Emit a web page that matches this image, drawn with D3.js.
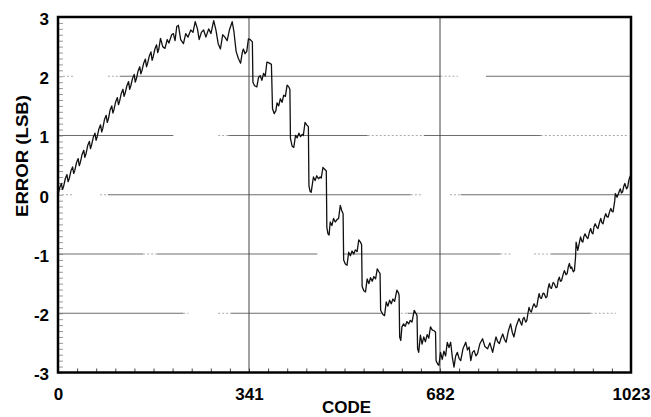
<!DOCTYPE html>
<html lang="en">
<head>
<meta charset="UTF-8">
<title>Error (LSB) vs Code</title>
<script src="https://d3js.org/d3.v7.min.js"></script>
<style>
    body {
        margin: 0;
        background: #fff;
    }
    svg {
        display: block;
        font-family: "Liberation Sans", Arial, sans-serif;
    }
    .tick text, .title {
        font-weight: bold;
        fill: #000;
    }
</style>
</head>
<body>
<div id="chart"></div>
<script>
    // tick labels
    const xTicks = [0, 341, 682, 1023];
    const yTicks = [-3, -2, -1, 0, 1, 2, 3];
    const vLines = [341, 682];

    // horizontal grid pieces as they survive in the scan: [level, fromCode, toCode]
    const gridSolid = [
        [2, 110, 683], [2, 764, 1023],
        [1, 0, 206], [1, 304, 553], [1, 653, 862],
        [0, 89, 630], [0, 719, 1023],
        [-1, 0, 152], [-1, 177, 463], [-1, 508, 790], [-1, 880, 1023],
        [-2, 0, 224], [-2, 308, 581], [-2, 624, 951]
    ];
    const gridDotted = [
        [2, 9, 30], [2, 89, 108], [2, 683, 714],
        [1, 286, 304], [1, 553, 653], [1, 862, 1018],
        [0, 0, 25], [0, 75, 89], [0, 630, 648], [0, 700, 719],
        [-1, 152, 177], [-1, 790, 808], [-1, 850, 880],
        [-2, 224, 233], [-2, 286, 308], [-2, 612, 624], [-2, 951, 996]
    ];

    // error curve: [code, error in LSB]
    const errorCurve = [
        [0, 0.00], [3, 0.12], [6, 0.19], [8, 0.09], [10, 0.14], [13, 0.27], [16, 0.34], [18, 0.22],
        [20, 0.27], [23, 0.40], [26, 0.47], [28, 0.36], [30, 0.41], [33, 0.54], [36, 0.61], [38, 0.49],
        [40, 0.55], [43, 0.68], [46, 0.75], [48, 0.63], [50, 0.69], [53, 0.83], [56, 0.90], [58, 0.78],
        [60, 0.84], [63, 0.97], [66, 1.04], [68, 0.92], [70, 0.98], [73, 1.11], [76, 1.18], [78, 1.06],
        [80, 1.12], [83, 1.27], [86, 1.34], [88, 1.22], [90, 1.28], [93, 1.43], [96, 1.50], [98, 1.38],
        [100, 1.44], [103, 1.57], [106, 1.64], [108, 1.52], [110, 1.58], [113, 1.71], [116, 1.78], [118, 1.66],
        [120, 1.72], [123, 1.84], [126, 1.91], [128, 1.78], [130, 1.84], [133, 1.96], [136, 2.03], [138, 1.90],
        [140, 1.96], [143, 2.09], [146, 2.16], [148, 2.04], [150, 2.10], [153, 2.22], [156, 2.29], [158, 2.16],
        [160, 2.22], [163, 2.34], [166, 2.41], [168, 2.27], [170, 2.33], [173, 2.46], [176, 2.53], [178, 2.40],
        [180, 2.46], [183, 2.64], [187, 2.50], [191, 2.47], [195, 2.62], [198, 2.56], [203, 2.70], [206, 2.72],
        [209, 2.60], [212, 2.84], [215, 2.86], [219, 2.62], [224, 2.55], [228, 2.72], [232, 2.66], [237, 2.78],
        [241, 2.74], [245, 2.92], [249, 2.80], [252, 2.62], [256, 2.74], [260, 2.78], [264, 2.66], [269, 2.80],
        [273, 2.72], [278, 2.94], [282, 2.78], [286, 2.55], [290, 2.46], [294, 2.70], [298, 2.66], [302, 2.60],
        [306, 2.78], [311, 2.92], [314, 2.76], [318, 2.42], [322, 2.30], [326, 2.22], [329, 2.40], [331, 2.46],
        [334, 2.38], [337, 2.42], [340, 2.63], [343, 2.62], [347, 2.58],
        [348, 1.90], [351, 1.84], [355, 1.82], [358, 1.98], [361, 2.01], [364, 1.93], [367, 2.05], [370, 2.00],
        [373, 2.24], [376, 2.23], [381, 2.20],
        [383, 1.45], [386, 1.37], [389, 1.42], [391, 1.55], [394, 1.50], [397, 1.62], [400, 1.56], [403, 1.68],
        [406, 1.66], [409, 1.85], [412, 1.82], [414, 1.78],
        [415, 0.95], [418, 0.82], [421, 0.80], [424, 1.00], [427, 0.96], [430, 1.04], [433, 0.98], [436, 1.02],
        [438, 1.00], [441, 1.22], [444, 1.18], [447, 1.15],
        [448, 0.15], [450, 0.06], [452, 0.04], [456, 0.30], [459, 0.24], [462, 0.32], [465, 0.27], [468, 0.30],
        [470, 0.28], [473, 0.46], [476, 0.43], [479, 0.40],
        [480, -0.55], [482, -0.66], [484, -0.68], [486, -0.46], [489, -0.52], [492, -0.40], [495, -0.46], [498, -0.42],
        [501, -0.40], [504, -0.18], [507, -0.28], [509, -0.32],
        [510, -1.10], [513, -1.17], [516, -1.19], [519, -0.97], [522, -1.03], [525, -0.95], [528, -1.00], [531, -0.93],
        [534, -0.96], [537, -0.76], [540, -0.80], [542, -0.84],
        [543, -1.55], [546, -1.62], [549, -1.64], [552, -1.42], [555, -1.50], [558, -1.40], [561, -1.46], [564, -1.38],
        [567, -1.42], [570, -1.25], [573, -1.30], [575, -1.33],
        [576, -1.95], [580, -2.02], [583, -2.04], [586, -1.81], [589, -1.88], [592, -1.78], [595, -1.84], [598, -1.76],
        [601, -1.80], [605, -1.61], [608, -1.66], [609, -1.70],
        [610, -2.40], [612, -2.46], [614, -2.23], [617, -2.18], [620, -2.22], [623, -2.14], [626, -2.18], [629, -2.12],
        [632, -2.15], [636, -1.95], [639, -2.00], [641, -2.04],
        [642, -2.60], [644, -2.66], [647, -2.37], [650, -2.52], [653, -2.40], [656, -2.48], [659, -2.36], [662, -2.42],
        [665, -2.23], [668, -2.28], [672, -2.30], [674, -2.32],
        [675, -2.80], [678, -2.86], [680, -2.88], [683, -2.66], [686, -2.78], [689, -2.64], [692, -2.72], [695, -2.49],
        [698, -2.58], [701, -2.49], [704, -2.74], [707, -2.91], [710, -2.72], [713, -2.66], [716, -2.76], [719, -2.80],
        [723, -2.60], [728, -2.49], [731, -2.62], [734, -2.57], [737, -2.80], [740, -2.66], [743, -2.63], [746, -2.72],
        [749, -2.68], [753, -2.52], [758, -2.43], [762, -2.56], [767, -2.60], [771, -2.50], [776, -2.66], [779, -2.52],
        [782, -2.40], [785, -2.48], [788, -2.51], [791, -2.42], [794, -2.35], [797, -2.44], [800, -2.49], [804, -2.30],
        [808, -2.18], [811, -2.32], [814, -2.40], [818, -2.22], [823, -2.09], [826, -2.16], [828, -2.20], [830, -2.10],
        [832, -2.07], [835, -2.15], [837, -2.12], [839, -2.00], [841, -1.90], [843, -1.96], [845, -1.98], [848, -1.88],
        [850, -1.84], [853, -1.90], [855, -1.88], [857, -1.76], [859, -1.67], [861, -1.74], [863, -1.75], [866, -1.66],
        [868, -1.67], [871, -1.74], [873, -1.72], [875, -1.58], [877, -1.50], [879, -1.57], [881, -1.58], [884, -1.48],
        [886, -1.50], [889, -1.57], [891, -1.56], [893, -1.44], [895, -1.39], [897, -1.46], [899, -1.45], [902, -1.34],
        [904, -1.28], [907, -1.35], [909, -1.33], [911, -1.22], [913, -1.16], [915, -1.24], [917, -1.22], [920, -1.30],
        [922, -1.28], [924, -1.05], [925, -0.80], [928, -0.94], [931, -0.80], [933, -0.71], [935, -0.78], [937, -0.80],
        [939, -0.70], [941, -0.66], [944, -0.72], [946, -0.74], [949, -0.62], [951, -0.57], [953, -0.64], [955, -0.66],
        [957, -0.54], [959, -0.49], [962, -0.55], [964, -0.57], [967, -0.46], [969, -0.40], [971, -0.47], [973, -0.49],
        [976, -0.37], [978, -0.32], [980, -0.37], [982, -0.38], [985, -0.28], [987, -0.23], [989, -0.28], [991, -0.29],
        [994, -0.10], [995, 0.02], [998, -0.04], [1000, 0.00], [1002, 0.06], [1004, 0.10], [1006, 0.03], [1008, 0.05],
        [1010, 0.14], [1012, 0.19], [1015, 0.10], [1017, 0.13], [1019, 0.24], [1021, 0.30], [1023, 0.34]
    ];

    const W = 651, H = 417;
    const margin = {top: 17, right: 20, bottom: 44.5, left: 58};

    const svg = d3.select("#chart")
        .append("svg")
        .attr("width", W)
        .attr("height", H);

    const x = d3.scaleLinear().domain([0, 1023]).range([margin.left, W - margin.right]);
    const y = d3.scaleLinear().domain([-3, 3]).range([H - margin.bottom, margin.top]);

    // minor ticks: 30 steps along code, 0.1 LSB along error
    const minorX = d3.range(31).map(i => i * 1023 / 30);
    const minorY = d3.range(61).map(i => -3 + i * 0.1);

    svg.append("g")
        .attr("transform", `translate(0,${y(-3)})`)
        .call(d3.axisBottom(x).tickValues(minorX).tickSize(-4).tickFormat(""))
        .call(g => g.select(".domain").remove())
        .call(g => g.selectAll("line").attr("stroke", "#444"));

    svg.append("g")
        .attr("transform", `translate(${x(0)},0)`)
        .call(d3.axisLeft(y).tickValues(minorY).tickSize(-5).tickFormat(""))
        .call(g => g.select(".domain").remove())
        .call(g => g.selectAll("line").attr("stroke", "#999"));

    // grid
    svg.append("g")
        .selectAll("line")
        .data(gridSolid)
        .join("line")
        .attr("x1", d => x(d[1]))
        .attr("x2", d => x(d[2]))
        .attr("y1", d => y(d[0]))
        .attr("y2", d => y(d[0]))
        .attr("stroke", "#6e6e6e")
        .attr("stroke-width", 1);

    svg.append("g")
        .selectAll("line")
        .data(gridDotted)
        .join("line")
        .attr("x1", d => x(d[1]))
        .attr("x2", d => x(d[2]))
        .attr("y1", d => y(d[0]))
        .attr("y2", d => y(d[0]))
        .attr("stroke", "#aaa")
        .attr("stroke-width", 1)
        .attr("stroke-dasharray", "2,2");

    svg.append("g")
        .selectAll("line")
        .data(vLines)
        .join("line")
        .attr("x1", d => x(d))
        .attr("x2", d => x(d))
        .attr("y1", y(3))
        .attr("y2", y(-3))
        .attr("stroke", "#444")
        .attr("stroke-width", 1);

    // curve
    const line = d3.line()
        .x(d => x(d[0]))
        .y(d => y(d[1]));

    svg.append("path")
        .datum(errorCurve)
        .attr("fill", "none")
        .attr("stroke", "#111")
        .attr("stroke-width", 1.3)
        .attr("stroke-linejoin", "round")
        .attr("d", line);

    // frame
    svg.append("rect")
        .attr("x", x(0))
        .attr("y", y(3))
        .attr("width", x(1023) - x(0))
        .attr("height", y(-3) - y(3))
        .attr("fill", "none")
        .attr("stroke", "#000")
        .attr("stroke-width", 2.5);

    // tick labels
    svg.append("g")
        .attr("transform", `translate(0,${y(-3)})`)
        .call(d3.axisBottom(x).tickValues(xTicks).tickSize(0).tickPadding(15.5).tickFormat(d => String(d)))
        .call(g => g.select(".domain").remove())
        .call(g => g.selectAll("text").attr("font-size", 17).attr("font-family", null));

    svg.append("g")
        .attr("transform", `translate(${x(0)},0)`)
        .call(d3.axisLeft(y).tickValues(yTicks).tickSize(0).tickPadding(9).tickFormat(d => String(d)))
        .call(g => g.select(".domain").remove())
        .call(g => g.selectAll("text").attr("font-size", 17).attr("font-family", null).attr("dy", "0.44em"));

    svg.append("text")
        .attr("class", "title")
        .attr("x", 346.5)
        .attr("y", 412.5)
        .attr("text-anchor", "middle")
        .attr("font-size", 17)
        .text("CODE");

    svg.append("text")
        .attr("class", "title")
        .attr("transform", "translate(28,156) rotate(-90)")
        .attr("text-anchor", "middle")
        .attr("font-size", 17)
        .attr("textLength", 122)
        .attr("lengthAdjust", "spacingAndGlyphs")
        .text("ERROR (LSB)");
</script>
</body>
</html>
